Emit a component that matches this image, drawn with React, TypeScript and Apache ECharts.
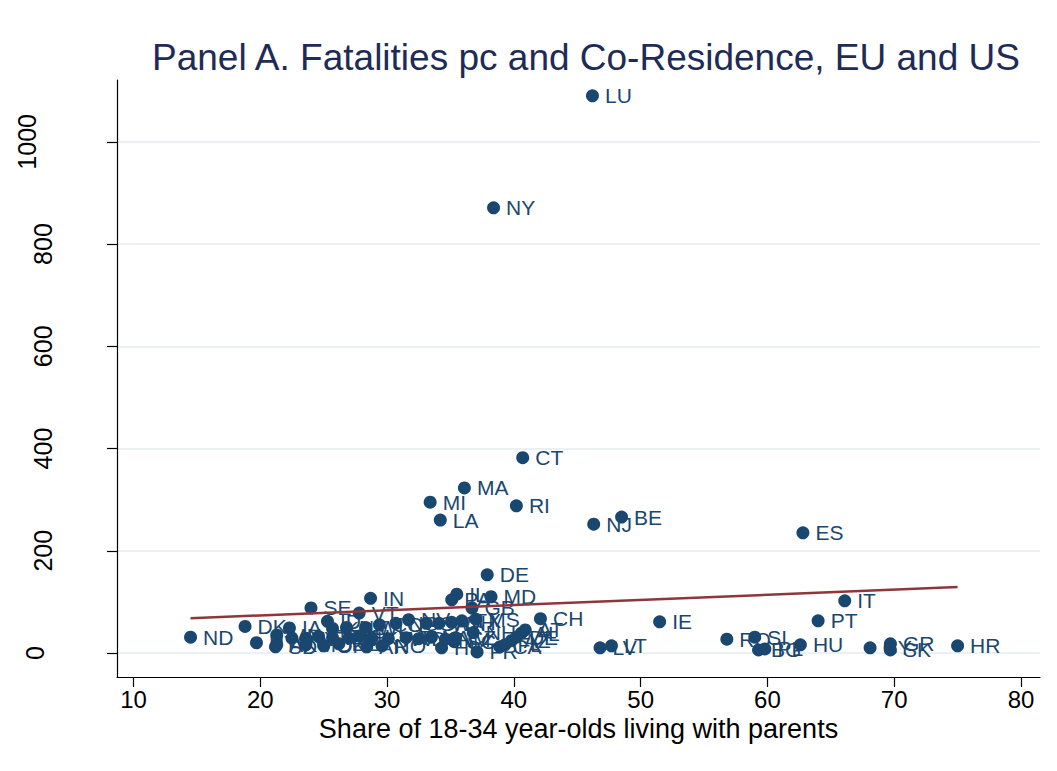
import React, { useEffect, useRef } from "react";
import * as echarts from "echarts";

const codes = [
  "LU", "NY", "CT", "MA", "MI", "RI", "LA", "NJ", "BE", "ES",
  "DE", "IN", "IL", "PA", "MD", "GB", "MS", "SE", "VT", "CH",
  "IE", "IT", "PT", "DK", "ND", "SD", "UT", "HR", "HU", "RO",
  "SI", "BG", "PL", "CY", "GR", "SK", "LV", "LT", "FR", "CA",
  "FL", "AZ", "DE", "AL", "NH", "NV", "IA", "ID", "KS", "NE",
  "WI", "CO", "NC", "GA", "WA", "OH", "TX", "MN", "WY", "MT",
  "OR", "ME", "NL", "FI", "KY", "WV", "TN", "DC", "VA", "NM",
  "CZ", "AK", "MO", "OK", "EE", "AR", "NO", "HI", "AT", "SC",
];
const shares = [
  46.2, 38.4, 40.7, 36.1, 33.4, 40.2, 34.2, 46.3, 48.5, 62.8,
  37.9, 28.7, 35.5, 35.1, 38.2, 36.7, 37.0, 24.0, 27.8, 42.1,
  51.5, 66.1, 64.0, 18.8, 14.5, 21.2, 19.7, 75.0, 62.6, 56.8,
  59.0, 59.3, 59.8, 68.1, 69.7, 69.7, 46.8, 47.7, 37.1, 38.9,
  39.3, 39.8, 40.2, 40.6, 36.8, 31.7, 22.3, 25.3, 25.7, 26.8,
  28.3, 29.4, 30.7, 33.1, 34.1, 35.1, 35.9, 21.3, 22.5, 23.6,
  24.6, 25.7, 27.0, 27.8, 28.8, 30.1, 31.5, 32.5, 33.5, 34.6,
  35.4, 21.3, 23.6, 25.0, 26.2, 28.4, 29.6, 34.3, 40.9, 35.3,
];
const fatalities = [
  1090, 871, 382, 323, 295, 288, 260, 252, 266, 235,
  153, 107, 115, 104, 110, 88, 66, 88, 78, 67,
  61, 102, 63, 52, 31, 12, 20, 14, 16, 27,
  31, 6, 8, 10, 18, 6, 10, 14, 2, 12,
  16, 24, 31, 39, 40, 65, 49, 62, 48, 50,
  50, 55, 58, 58, 58, 60, 63, 35, 29, 29,
  32, 30, 29, 33, 29, 28, 30, 28, 31, 27,
  30, 16, 16, 14, 18, 12, 14, 10, 45, 22,
];

const fitX = [14.5, 75.0];
const fitY = [68, 129];

const xTicks = [10, 20, 30, 40, 50, 60, 70, 80];
const yTicks = [0, 200, 400, 600, 800, 1000];

const FONT = "'Liberation Sans', Arial, Helvetica, sans-serif";

export default function App() {
  const ref = useRef<HTMLDivElement>(null);
  useEffect(() => {
    document.body.style.margin = "0";
    if (!ref.current) return;
    const chart = echarts.init(ref.current, undefined, { renderer: "svg" });
    const points = codes.map((c, i) => ({ name: c, value: [shares[i], fatalities[i]] }));
    chart.setOption({
      animation: false,
      backgroundColor: "#ffffff",
      textStyle: { fontFamily: FONT },
      title: {
        text: "Panel A. Fatalities pc and Co-Residence, EU and US",
        left: 147,
        top: 34,
        textStyle: { fontSize: 37, fontWeight: "normal", color: "#1e2b57", fontFamily: FONT },
      },
      grid: { left: 117, right: 17, top: 80, bottom: 94, outerBoundsMode: "none" },
      xAxis: {
        type: "value",
        min: 8.7,
        max: 81.5,
        name: "Share of 18-34 year-olds living with parents",
        nameLocation: "middle",
        nameGap: 38,
        nameTextStyle: { fontSize: 27, color: "#000", fontFamily: FONT },
        axisLine: { show: true, onZero: false, lineStyle: { color: "#000", width: 1.2 } },
        axisTick: { show: true, length: 10, customValues: xTicks, lineStyle: { color: "#000", width: 1.2 } },
        axisLabel: { customValues: xTicks, fontSize: 24, color: "#000", margin: 10, fontFamily: FONT },
        splitLine: { show: false },
      },
      yAxis: {
        type: "value",
        min: -47,
        max: 1121,
        axisLine: { show: true, onZero: false, lineStyle: { color: "#000", width: 1.2 } },
        axisTick: { show: true, length: 10, customValues: yTicks, lineStyle: { color: "#000", width: 1.2 } },
        axisLabel: {
          customValues: yTicks,
          fontSize: 25,
          color: "#000",
          rotate: 90,
          margin: 62,
          fontFamily: FONT,
          formatter: (v: number) => (v === 1000 ? "{f|1000}" : v === 0 ? "{z|0}" : "{n|" + String(v) + "}"),
          rich: {
            f: { fontSize: 25, color: "#000", fontFamily: FONT, padding: [0, 0, 16, 0] },
            z: { fontSize: 25, color: "#000", fontFamily: FONT, padding: [0, 0, 8, 0] },
            n: { fontSize: 25, color: "#000", fontFamily: FONT },
          },
        },
        splitLine: { show: true, lineStyle: { color: "#e4ecee", width: 1.5 } },
      },
      series: [
        {
          type: "scatter",
          data: points,
          symbol: "circle",
          symbolSize: 13,
          itemStyle: { color: "#1a476f", opacity: 1 },
          label: {
            show: true,
            position: "right",
            distance: 6,
            formatter: (p: any) => p.name,
            color: "#1a476f",
            fontSize: 21,
            fontFamily: FONT,
          },
          z: 2,
        },
        {
          type: "line",
          data: fitX.map((x, i) => [x, fitY[i]]),
          symbol: "none",
          lineStyle: { color: "#90353b", width: 2.5 },
          z: 3,
        },
      ],
    });
    return () => chart.dispose();
  }, []);
  return <div ref={ref} style={{ width: 1057, height: 771 }} />;
}
